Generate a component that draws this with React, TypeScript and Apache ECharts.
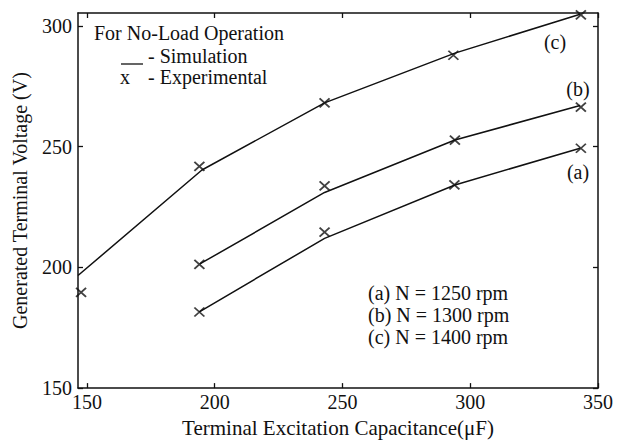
import React, { useEffect, useRef } from "react";
import * as echarts from "echarts";

// Capacitance (µF) ticks and voltage (V) ticks
const xTicks = [150, 200, 250, 300, 350];
const yTicks = [150, 200, 250, 300];

// Simulation curves (capacitance, voltage)
const simA = [[194, 181.6], [243, 212], [294, 234.1], [343, 249.3]];
const simB = [[194.2, 201.4], [243, 231], [294, 252.7], [343, 267]];
const simC = [[146.5, 196.6], [195, 240.3], [243, 268.1], [294, 288.7], [343, 304.8]];

// Experimental points
const expA = [[194, 181.5], [243, 214.6], [293.8, 234.1], [343.3, 249.3]];
const expB = [[194, 201.2], [243, 233.7], [294, 252.7], [343.3, 266.3]];
const expC = [[147.7, 189.6], [194, 241.8], [243, 268.1], [293.4, 287.8], [343.3, 304.5]];

const FONT = "Liberation Serif";
const INK = "#111";

export default function App() {
  const ref = useRef<HTMLDivElement>(null);
  useEffect(() => {
    if (!ref.current) return;
    const chart = echarts.init(ref.current, undefined, { renderer: "svg" });
    const axisLine = { show: true, lineStyle: { color: INK, width: 1.5 } };
    const lab = { fontFamily: FONT, fontSize: 20, color: INK };
    const xBase = { type: "value" as const, min: 146.5, max: 350, splitLine: { show: false } };
    const yBase = { type: "value" as const, min: 150, max: 305.3, splitLine: { show: false } };
    const simLine = (name: string, data: number[][]) => ({
      name, type: "line", data, showSymbol: false, smooth: false,
      lineStyle: { color: INK, width: 1.5 }, silent: true,
    });
    const exp = (name: string, data: number[][]) => ({
      name, type: "scatter", data,
      symbol: "path://M0,0L10,10M10,0L0,10",
      symbolSize: [10, 9],
      itemStyle: { color: "transparent", borderColor: INK, borderWidth: 1.8 },
    });
    const txt = (text: string, x: number, y: number, align = "left", size = 20) => ({
      type: "text", x, y,
      style: {
        text, x: 0, y: 0, fontFamily: FONT, fontSize: size, fill: INK,
        align, verticalAlign: "middle", textAlign: align, textVerticalAlign: "middle",
      },
    });
    chart.setOption({
      animation: false,
      backgroundColor: "#fff",
      grid: { left: 78, right: 29, top: 13, bottom: 50, containLabel: false },
      xAxis: [
        {
          ...xBase, position: "bottom",
          name: "Terminal Excitation Capacitance(μF)", nameLocation: "middle", nameGap: 25,
          nameTextStyle: { fontFamily: FONT, fontSize: 21, color: INK },
          axisLine,
          axisTick: { show: true, inside: true, length: 5, customValues: xTicks, lineStyle: { color: INK, width: 1.3 } },
          axisLabel: { ...lab, margin: 4, customValues: xTicks },
        },
        {
          ...xBase, position: "top",
          axisLine,
          axisTick: { show: true, inside: true, length: 5, customValues: xTicks, lineStyle: { color: INK, width: 1.3 } },
          axisLabel: { show: false },
        },
      ],
      yAxis: [
        {
          ...yBase, position: "left",
          name: "Generated Terminal Voltage (V)", nameLocation: "middle", nameGap: 48,
          nameTextStyle: { fontFamily: FONT, fontSize: 20, color: INK },
          axisLine,
          axisTick: { show: true, inside: true, length: 5, customValues: yTicks, lineStyle: { color: INK, width: 1.3 } },
          axisLabel: { ...lab, margin: 6, customValues: yTicks },
        },
        {
          ...yBase, position: "right",
          axisLine,
          axisTick: { show: true, inside: true, length: 5, customValues: yTicks, lineStyle: { color: INK, width: 1.3 } },
          axisLabel: { show: false },
        },
      ],
      series: [
        simLine("Simulation (a)", simA),
        simLine("Simulation (b)", simB),
        simLine("Simulation (c)", simC),
        exp("Experimental (a)", expA),
        exp("Experimental (b)", expB),
        exp("Experimental (c)", expC),
      ],
      graphic: [
        txt("For No-Load Operation", 94, 33),
        { type: "line", shape: { x1: 121, y1: 64, x2: 143, y2: 64 }, style: { stroke: INK, lineWidth: 1.3 } },
        txt("- Simulation", 148, 56),
        txt("x", 125, 77, "center"),
        txt("- Experimental", 148, 77),
        txt("(c)", 555, 42, "center"),
        txt("(b)", 578, 89, "center"),
        txt("(a)", 578, 172, "center"),
        txt("(a) N = 1250 rpm", 368, 293),
        txt("(b) N = 1300 rpm", 368, 315),
        txt("(c) N = 1400 rpm", 368, 337),
      ],
    });
    return () => chart.dispose();
  }, []);
  return (
    <div
      ref={ref}
      style={{ position: "fixed", left: 0, top: 0, width: 627, height: 443, background: "#fff" }}
    />
  );
}
